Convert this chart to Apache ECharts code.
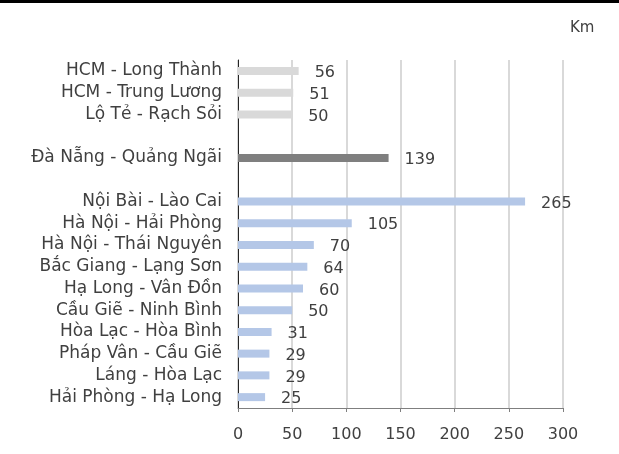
<!DOCTYPE html>
<html>
<head>
<meta charset="utf-8">
<script src="https://cdn.jsdelivr.net/npm/echarts@6/dist/echarts.min.js"></script>
<style>
  html, body { margin: 0; padding: 0; background: #fff; }
  #chart { width: 619px; height: 454px; }
</style>
</head>
<body>
<div id="chart"></div>
<script>
// Expressway lengths (km); blank entries separate the three groups
const routes = [
  'HCM - Long Thành', 'HCM - Trung Lương', 'Lộ Tẻ - Rạch Sỏi',
  ' ',
  'Đà Nẵng - Quảng Ngãi',
  '  ',
  'Nội Bài - Lào Cai', 'Hà Nội - Hải Phòng', 'Hà Nội - Thái Nguyên',
  'Bắc Giang - Lạng Sơn', 'Hạ Long - Vân Đồn', 'Cầu Giẽ - Ninh Bình',
  'Hòa Lạc - Hòa Bình', 'Pháp Vân - Cầu Giẽ', 'Láng - Hòa Lạc',
  'Hải Phòng - Hạ Long'
];
const southValues   = [56, 51, 50, null, null, null, null, null, null, null, null, null, null, null, null, null];
const centralValues = [null, null, null, null, 139, null, null, null, null, null, null, null, null, null, null, null];
const northValues   = [null, null, null, null, null, null, 265, 105, 70, 64, 60, 50, 31, 29, 29, 25];
const xTicks = [0, 50, 100, 150, 200, 250, 300];

const FONT = '"DejaVu Sans", Verdana, sans-serif';
const TEXT = '#404040';

function barSeries(values, color) {
  return {
    type: 'bar',
    data: values,
    barWidth: 8,
    barGap: '-100%',
    itemStyle: { color: color },
    label: {
      show: true,
      position: 'right',
      distance: 16,
      color: TEXT,
      fontFamily: FONT,
      fontSize: 16,
      offset: [0, 2]
    },
    silent: true
  };
}

const chart = echarts.init(document.getElementById('chart'), null, { renderer: 'canvas' });
chart.setOption({
  animation: false,
  backgroundColor: '#fff',
  grid: { left: 238, right: 56, top: 60, bottom: 46, containLabel: false },
  graphic: [
    { type: 'rect', left: 0, top: 0, shape: { width: 619, height: 3 }, style: { fill: '#000' } },
    { type: 'text', left: 570, top: 21, style: { text: 'Km', fill: TEXT, font: '15px ' + FONT } }
  ],
  xAxis: {
    type: 'value',
    min: xTicks[0],
    max: xTicks[xTicks.length - 1],
    interval: xTicks[1] - xTicks[0],
    axisLine: { show: true, lineStyle: { color: '#7f7f7f', width: 1 } },
    axisTick: { show: true, length: 4, lineStyle: { color: '#7f7f7f' } },
    axisLabel: { color: TEXT, fontFamily: FONT, fontSize: 16, margin: 19 },
    splitLine: { show: true, lineStyle: { color: '#d9d9d9', width: 2 } }
  },
  yAxis: {
    type: 'category',
    data: routes,
    inverse: true,
    axisLine: { show: true, lineStyle: { color: '#262626', width: 1 } },
    axisTick: { show: false },
    axisLabel: {
      color: TEXT, fontFamily: FONT, fontSize: 17, margin: 16,
      interval: 0, hideOverlap: false, padding: [3, 0, 0, 0]
    }
  },
  series: [
    barSeries(southValues, '#d9d9d9'),
    barSeries(centralValues, '#7f7f7f'),
    barSeries(northValues, '#b4c7e7')
  ]
});
</script>
</body>
</html>
